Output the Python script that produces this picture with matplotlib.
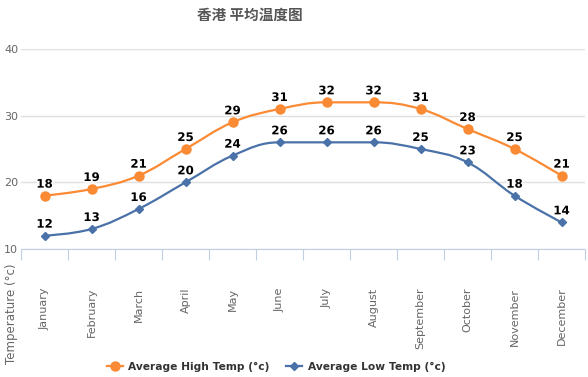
import numpy as np
import matplotlib
matplotlib.use('Agg')
import matplotlib.pyplot as plt
import matplotlib.patheffects as pe
from matplotlib.path import Path
from matplotlib.patches import PathPatch

months = ['January', 'February', 'March', 'April', 'May', 'June', 'July',
          'August', 'September', 'October', 'November', 'December']
high = [18, 19, 21, 25, 29, 31, 32, 32, 31, 28, 25, 21]
low = [12, 13, 16, 20, 24, 26, 26, 26, 25, 23, 18, 14]
yticks = [10, 20, 30, 40]

title = '香港 平均温度图'
ytitle = 'Temperature (°c)'
names = ['Average High Temp (°c)', 'Average Low Temp (°c)']
colors = ['#fa8a33', '#4a72a8']
markers = ['o', 'D']
msizes = [6.5, 4.5]

W, H = 588, 377
fig = plt.figure(figsize=(W / 100, H / 100), dpi=100)
ax = fig.add_axes([21 / W, 1 - 249 / H, 564 / W, 200 / H])
ax.set_xlim(-0.5, 11.5)
ax.set_ylim(10, 40)


def spline_path(xs, ys):
    # highcharts-like spline control points
    sm, den = 1.5, 2.5
    n = len(xs)
    verts = [(xs[0], ys[0])]
    codes = [Path.MOVETO]
    ctrl = []
    for i in range(n):
        if i == 0 or i == n - 1:
            ctrl.append(None)
            continue
        px, py = xs[i], ys[i]
        lx, ly = xs[i - 1], ys[i - 1]
        nx, ny = xs[i + 1], ys[i + 1]
        lcx = (sm * px + lx) / den
        lcy = (sm * py + ly) / den
        rcx = (sm * px + nx) / den
        rcy = (sm * py + ny) / den
        corr = (rcy - lcy) * (rcx - px) / (rcx - lcx) + py - rcy
        lcy += corr
        rcy += corr
        if lcy > ly and lcy > py:
            lcy = max(ly, py)
            rcy = 2 * py - lcy
        elif lcy < ly and lcy < py:
            lcy = min(ly, py)
            rcy = 2 * py - lcy
        if rcy > ny and rcy > py:
            rcy = max(ny, py)
            lcy = 2 * py - rcy
        elif rcy < ny and rcy < py:
            rcy = min(ny, py)
            lcy = 2 * py - rcy
        ctrl.append(((lcx, lcy), (rcx, rcy)))
    for i in range(1, n):
        c1 = ctrl[i - 1][1] if ctrl[i - 1] else (xs[i - 1], ys[i - 1])
        c2 = ctrl[i][0] if ctrl[i] else (xs[i], ys[i])
        verts += [c1, c2, (xs[i], ys[i])]
        codes += [Path.CURVE4] * 3
    return Path(verts, codes)


x = np.arange(len(months))
for ys, c, m, s in zip([high, low], colors, markers, msizes):
    ax.add_patch(PathPatch(spline_path(list(x), ys), fc='none', ec=c, lw=1.6, zorder=3))
    ax.plot(x, ys, ls='none', marker=m, color=c, ms=s, zorder=4)
    for xi, yi in zip(x, ys):
        ax.text(xi, yi + 0.75, str(yi), ha='center', va='bottom', fontsize=8.5,
                fontweight='bold', color='black', zorder=5,
                path_effects=[pe.withStroke(linewidth=2.5, foreground='white')])

ax.set_yticks(yticks)
ax.yaxis.grid(True, color='#e0e0e0', lw=1)
ax.set_axisbelow(True)
ax.tick_params(axis='y', length=0, labelsize=8, labelcolor='#666666', pad=2)
for s in ['top', 'right', 'left']:
    ax.spines[s].set_visible(False)
ax.spines['bottom'].set_color('#c0d0e0')
ax.set_xticks(np.arange(-0.5, 12, 1))
ax.set_xticklabels([])
ax.tick_params(axis='x', length=8, color='#c0d0e0', direction='out')
for xi, mth in zip(x, months):
    ax.text(xi, 4.2, mth, rotation=90, ha='center', va='top', fontsize=8,
            color='#666666', clip_on=False)

fig.text(12 / W, 1 - 314 / H, ytitle, rotation=90, ha='center', va='center',
         fontsize=8.5, color='#666666')
fig.text(250 / W, 1 - 15 / H, title, ha='center', va='center', fontsize=10.5,
         fontweight='bold', color='#555555', family=['Noto Sans CJK SC', 'DejaVu Sans'])

handles = [plt.Line2D([], [], color=c, marker=m, lw=1.6, ms=s)
           for c, m, s in zip(colors, markers, msizes)]
leg = fig.legend(handles, names, loc='center', bbox_to_anchor=(276 / W, 1 - 367 / H),
                 ncol=2, frameon=False, handlelength=1.5, handletextpad=0.5,
                 columnspacing=1.6, prop={'weight': 'bold', 'size': 7.7})
for t in leg.get_texts():
    t.set_color('#333333')

fig.savefig('out.png', dpi=100)
